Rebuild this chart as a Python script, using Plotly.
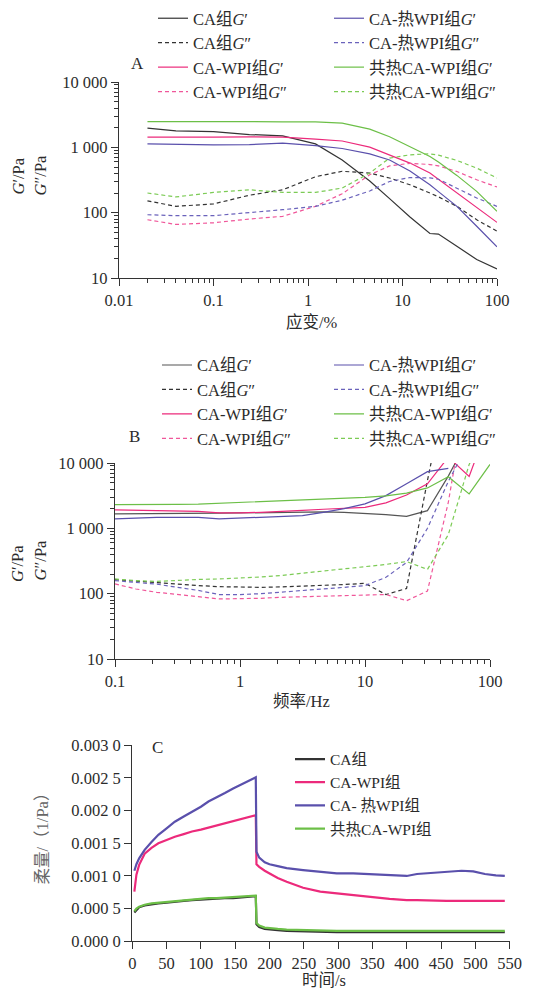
import plotly.graph_objects as go

# ---------------- Panel A: strain sweep ----------------
strain = [0.02, 0.04, 0.1, 0.24, 0.54, 1.2, 2.3, 4.5, 7.3, 12, 19.5, 24, 37.6, 61, 100]
a_ca_g1 = [1965, 1790, 1740, 1570, 1500, 1130, 640, 305, 164, 86, 48, 47, 30.6, 19.2, 13.8]
a_ca_g2 = [152, 125, 136, 185, 224, 355, 430, 404, 339, 267, 200, 175, 125, 78, 52]
a_wpi_g1 = [1430, 1420, 1430, 1450, 1430, 1340, 1250, 1007, 768, 574, 404, 324, 200, 118, 71]
a_wpi_g2 = [78, 66, 70, 80, 88, 125, 195, 380, 520, 570, 545, 520, 427, 319, 247]
a_hwpi_g1 = [1130, 1100, 1090, 1100, 1160, 1060, 960, 795, 640, 433, 267, 210, 125, 62, 30]
a_hwpi_g2 = [93, 90, 90, 100, 111, 125, 155, 215, 300, 345, 340, 325, 238, 168, 125]
a_co_g1 = [2480, 2490, 2480, 2470, 2460, 2450, 2350, 1900, 1450, 1030, 724, 594, 372, 212, 105]
a_co_g2 = [200, 174, 204, 224, 204, 204, 238, 404, 684, 768, 795, 760, 630, 481, 339]

# ---------------- Panel B: frequency sweep ----------------
freq = [0.1, 0.147, 0.215, 0.316, 0.464, 0.681, 1, 1.47, 2.15, 3.16, 4.64, 6.81, 10, 14.7, 21.5, 31.6, 46.4, 68.1, 100]
b_ca_g1 = [1662, 1680, 1690, 1700, 1700, 1710, 1720, 1740, 1758, 1770, 1780, 1760, 1700, 1620, 1527, 1866, 6300, 25000, None]
b_ca_g2 = [164, 155, 147, 140, 133, 128, 125, 125, 127, 130, 133, 138, 144, 97, 120, 5400, 195000, None, None]
b_wpi_g1 = [1915, 1880, 1870, 1860, 1820, 1730, 1720, 1760, 1800, 1880, 1960, 2020, 2090, 2450, 3240, 4790, 12300, 6250, 45000]
b_wpi_g2 = [141, 118, 105, 96, 90, 83, 83, 85, 88, 90, 93, 95, 97, 97, 78, 110, 2500, 180000, None]
b_hwpi_g1 = [1393, 1440, 1473, 1473, 1473, 1393, 1430, 1470, 1500, 1565, 1750, 2000, 2363, 3170, 4800, 7380, 8300, None, None]
b_hwpi_g2 = [158, 150, 140, 125, 112, 97, 97, 100, 105, 112, 118, 125, 133, 178, 300, 1000, 5230, 21000, None]
b_co_g1 = [2307, 2300, 2270, 2320, 2350, 2420, 2480, 2560, 2640, 2700, 2790, 2870, 2985, 3150, 3450, 4150, 6170, 3360, 9500]
b_co_g2 = [168, 158, 154, 160, 165, 168, 172, 180, 190, 205, 220, 235, 253, 280, 310, 235, 800, 9500, 40000]

# ---------------- Panel C: creep / recovery ----------------
time_s = [3, 6, 10, 18, 28, 38, 50, 62, 75, 87, 100, 111, 123, 135, 147, 160, 170, 180,
          181, 185, 193, 200, 212, 225, 249, 274, 298, 322, 347, 375, 400, 415, 440, 458, 480, 497, 514, 530, 543]
c_ca = [0.00044, 0.00048, 0.00052, 0.00055, 0.00057, 0.00058, 0.00059, 0.00061, 0.00062, 0.00063, 0.00064, 0.00065,
        0.00065, 0.00066, 0.00066, 0.00067, 0.00068, 0.00069,
        0.00026, 0.00022, 0.00019, 0.00018, 0.00017, 0.00016, 0.00015, 0.000145, 0.00014, 0.00014, 0.00014, 0.00014,
        0.00014, 0.00014, 0.00014, 0.00014, 0.00014, 0.00014, 0.00014, 0.00014, 0.00014]
c_wpi = [0.00076, 0.00102, 0.00117, 0.00134, 0.00143, 0.0015, 0.00155, 0.0016, 0.00164, 0.00168, 0.00171, 0.00174,
         0.00178, 0.00181, 0.00184, 0.00187, 0.0019, 0.00193,
         0.00118, 0.00114, 0.00108, 0.00104, 0.00097, 0.00091, 0.00082, 0.00076, 0.00073, 0.00071, 0.00068, 0.00065,
         0.00063, 0.00063, 0.00062, 0.00062, 0.00062, 0.00062, 0.00062, 0.00062, 0.00062]
c_hwpi = [0.00108, 0.00118, 0.00127, 0.0014, 0.00152, 0.00163, 0.00173, 0.00183, 0.00191, 0.00198, 0.00206, 0.00214,
          0.0022, 0.00227, 0.00234, 0.00241, 0.00246, 0.00251,
          0.00137, 0.00128, 0.00121, 0.00118, 0.00115, 0.00112, 0.00109, 0.00106, 0.00104, 0.00104, 0.00103, 0.00102,
          0.001, 0.00103, 0.00105, 0.00107, 0.00108, 0.00107, 0.00103, 0.00101, 0.001]
c_co = [0.00046, 0.0005, 0.00053, 0.00056, 0.00058, 0.00059, 0.0006, 0.00062, 0.00063, 0.00064, 0.00065, 0.00066,
        0.00066, 0.00067, 0.00067, 0.00068, 0.00069, 0.0007,
        0.00028, 0.00024, 0.00021, 0.0002, 0.00019, 0.00018, 0.00017, 0.000165, 0.00016, 0.00016, 0.00016, 0.00016,
        0.00016, 0.00016, 0.00016, 0.00016, 0.00016, 0.00016, 0.00016, 0.00016, 0.00016]

# tick labels
log_y_vals = [10, 100, 1000, 10000]
log_y_text = ["10", "100", "1 000", "10 000"]
a_x_vals = [0.01, 0.1, 1, 10, 100]
a_x_text = ["0.01", "0.1", "1", "10", "100"]
b_x_vals = [0.1, 1, 10, 100]
b_x_text = ["0.1", "1", "10", "100"]
c_y_vals = [0, 0.0005, 0.001, 0.0015, 0.002, 0.0025, 0.003]
c_y_text = ["0.000 0", "0.000 5", "0.001 0", "0.001 5", "0.002 0", "0.002 5", "0.003 0"]
c_x_vals = [0, 50, 100, 150, 200, 250, 300, 350, 400, 450, 500, 550]

# page offset (default body margin of the html page) and figure size
OFF = 8
W, H = 540, 984
SERIF = "Liberation Serif, Noto Sans CJK SC, serif"
TXT = "#2b2b2b"

BLACK = "#333333"
BLACK_B = "#555555"
PINK = "#ec2a7b"
PINK_D = "#f0579a"
BLUE = "#5a50ac"
BLUE_D = "#6a62bb"
GREEN = "#6cbf47"
GREEN_D = "#7ccb55"
DASH = "4px,3px"

G1 = "<i>G</i>′"
G2 = "<i>G</i>″"

fig = go.Figure()


def add(x, y, name, color, dash, xa, ya, legend, width=1.2):
    fig.add_trace(go.Scatter(
        x=x, y=y, name=name, mode="lines", xaxis=xa, yaxis=ya, legend=legend,
        line=dict(color=color, width=width, dash=dash), connectgaps=False))


# Panel A
add(strain, a_ca_g1, "CA组" + G1, BLACK, "solid", "x", "y", "legend")
add(strain, a_ca_g2, "CA组" + G2, BLACK, DASH, "x", "y", "legend")
add(strain, a_wpi_g1, "CA-WPI组" + G1, PINK, "solid", "x", "y", "legend")
add(strain, a_wpi_g2, "CA-WPI组" + G2, PINK_D, DASH, "x", "y", "legend")
add(strain, a_hwpi_g1, "CA-热WPI组" + G1, BLUE, "solid", "x", "y", "legend2")
add(strain, a_hwpi_g2, "CA-热WPI组" + G2, BLUE_D, DASH, "x", "y", "legend2")
add(strain, a_co_g1, "共热CA-WPI组" + G1, GREEN, "solid", "x", "y", "legend2")
add(strain, a_co_g2, "共热CA-WPI组" + G2, GREEN_D, DASH, "x", "y", "legend2")

# Panel B
add(freq, b_ca_g1, "CA组" + G1, BLACK_B, "solid", "x2", "y2", "legend3")
add(freq, b_ca_g2, "CA组" + G2, BLACK, DASH, "x2", "y2", "legend3")
add(freq, b_wpi_g1, "CA-WPI组" + G1, PINK, "solid", "x2", "y2", "legend3")
add(freq, b_wpi_g2, "CA-WPI组" + G2, PINK_D, DASH, "x2", "y2", "legend3")
add(freq, b_hwpi_g1, "CA-热WPI组" + G1, BLUE, "solid", "x2", "y2", "legend4")
add(freq, b_hwpi_g2, "CA-热WPI组" + G2, BLUE_D, DASH, "x2", "y2", "legend4")
add(freq, b_co_g1, "共热CA-WPI组" + G1, GREEN, "solid", "x2", "y2", "legend4")
add(freq, b_co_g2, "共热CA-WPI组" + G2, GREEN_D, DASH, "x2", "y2", "legend4")

# Panel C
add(time_s, c_ca, "CA组", BLACK, "solid", "x3", "y3", "legend5", 2.2)
add(time_s, c_wpi, "CA-WPI组", PINK, "solid", "x3", "y3", "legend5", 2.2)
add(time_s, c_hwpi, "CA- 热WPI组", BLUE, "solid", "x3", "y3", "legend5", 2.2)
add(time_s, c_co, "共热CA-WPI组", GREEN, "solid", "x3", "y3", "legend5", 2.2)


def px_x(p):
    return (p - OFF) / W


def px_y(p):
    return 1 - (p - OFF) / H


def minor_log(lo, hi):
    vals = []
    for e in range(lo, hi):
        for m in range(2, 10):
            vals.append(m * 10 ** e)
    return vals


axis_common = dict(showline=True, linecolor="#333", linewidth=1.3, showgrid=False, zeroline=False,
                   automargin=False,
                   ticks="outside", ticklen=7, tickwidth=1.2, tickcolor="#333",
                   tickfont=dict(family=SERIF, size=16.5, color=TXT), mirror=False)

minor_common = dict(ticks="outside", ticklen=4, tickwidth=1, tickcolor="#333", showgrid=False)

layout = dict(
    template="none",
    width=W, height=H, margin=dict(l=0, r=0, t=0, b=0, pad=0, autoexpand=False),
    paper_bgcolor="white", plot_bgcolor="white",
    font=dict(family=SERIF, size=16, color=TXT),
    xaxis=dict(type="log", range=[-2, 2], domain=[px_x(119), px_x(497)], anchor="y",
               tickmode="array", tickvals=a_x_vals, ticktext=a_x_text,
               minor=dict(tickmode="array", tickvals=minor_log(-2, 2), **minor_common), **axis_common),
    yaxis=dict(type="log", range=[1, 4], domain=[px_y(278), px_y(82)], anchor="x",
               tickmode="array", tickvals=log_y_vals, ticktext=log_y_text,
               minor=dict(tickmode="array", tickvals=minor_log(1, 4), **minor_common), **axis_common),
    xaxis2=dict(type="log", range=[-1, 2], domain=[px_x(115), px_x(490)], anchor="y2",
                tickmode="array", tickvals=b_x_vals, ticktext=b_x_text,
                minor=dict(tickmode="array", tickvals=minor_log(-1, 2), **minor_common), **axis_common),
    yaxis2=dict(type="log", range=[1, 4], domain=[px_y(659), px_y(463)], anchor="x2",
                tickmode="array", tickvals=log_y_vals, ticktext=log_y_text,
                minor=dict(tickmode="array", tickvals=minor_log(1, 4), **minor_common), **axis_common),
    xaxis3=dict(range=[0, 550], domain=[px_x(132.3), px_x(509.6)], anchor="y3",
                tickmode="array", tickvals=c_x_vals, **axis_common),
    yaxis3=dict(range=[0, 0.003], domain=[px_y(941.3), px_y(745.3)], anchor="x3",
                tickmode="array", tickvals=c_y_vals, ticktext=c_y_text, **axis_common),
)

leg_common = dict(xanchor="left", yanchor="top", bgcolor="rgba(0,0,0,0)", borderwidth=0,
                  itemwidth=30, font=dict(family=SERIF, size=16.5, color=TXT), traceorder="normal")
layout["legend"] = dict(x=px_x(153), y=px_y(1), **leg_common)
layout["legend2"] = dict(x=px_x(329), y=px_y(1), **leg_common)
layout["legend3"] = dict(x=px_x(157), y=px_y(347.8), **leg_common)
layout["legend4"] = dict(x=px_x(329), y=px_y(347.8), **leg_common)
leg_c = dict(leg_common)
leg_c["font"] = dict(family=SERIF, size=15.5, color=TXT)
layout["legend5"] = dict(x=px_x(290), y=px_y(742.5), **leg_c)

fig.update_layout(**layout)


def ann(text, x, y, size=16.5, angle=0, color=TXT):
    fig.add_annotation(text=text, x=px_x(x), y=px_y(y), xref="paper", yref="paper",
                       showarrow=False, textangle=angle, xanchor="center", yanchor="middle",
                       font=dict(family=SERIF, size=size, color=color))


ann("A", 137, 63, 17)
ann("B", 134, 436, 17)
ann("C", 157, 747, 17)
ann(G1 + "/Pa", 17.5, 176, 16.5, -90)
ann(G2 + "/Pa", 40.5, 175, 16.5, -90)
ann(G1 + "/Pa", 17, 564, 16.5, -90)
ann(G2 + "/Pa", 39.5, 560, 16.5, -90)
ann("应变/%", 312, 323, 16.5)
ann("频率/Hz", 301, 701, 16.5)
ann("时间/s", 324, 980, 16.5)
ann("柔量/（1/Pa）", 41.5, 835, 16.5, -90, "#666666")

fig.write_html("out.html")
